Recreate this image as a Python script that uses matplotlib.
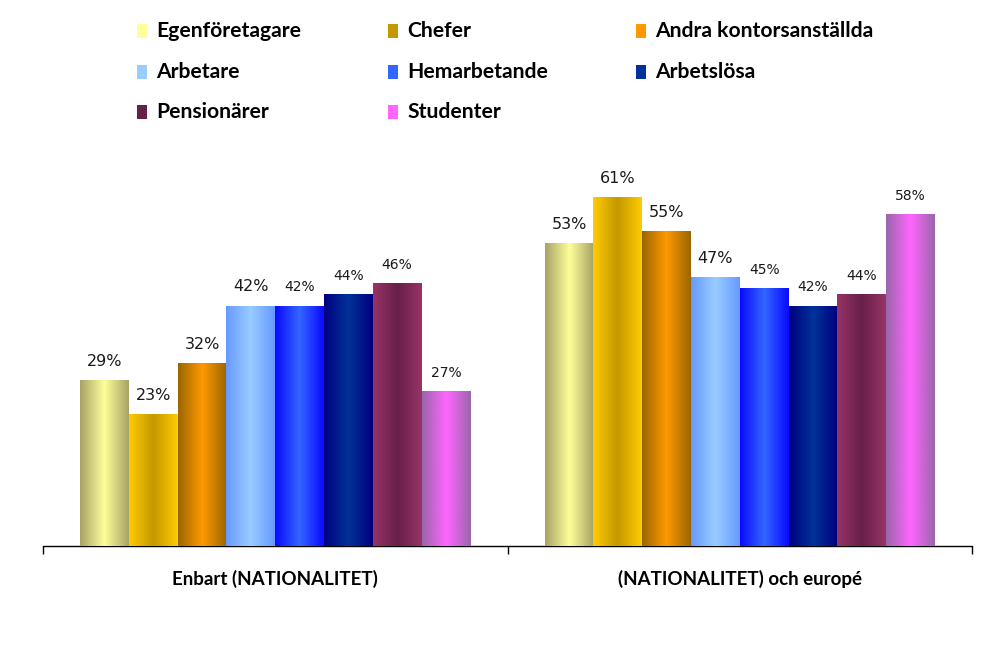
import numpy as np
import matplotlib.pyplot as plt
from matplotlib.colors import LinearSegmentedColormap
from matplotlib.patches import Rectangle

# data
grupper = ['Enbart (NATIONALITET)', '(NATIONALITET) och europé']
kategorier = ['Egenföretagare', 'Chefer', 'Andra kontorsanställda', 'Arbetare',
              'Hemarbetande', 'Arbetslösa', 'Pensionärer', 'Studenter']
enbart = [29, 23, 32, 42, 42, 44, 46, 27]
europe = [53, 61, 55, 47, 45, 42, 44, 58]

# gradient colours: edge / middle
kant = ['#a8a266', '#ffcc00', '#996600', '#6699ff', '#0a0aff', '#000080', '#993366', '#9966aa']
mitt = ['#ffff99', '#c49800', '#ff9900', '#99ccff', '#3366ff', '#003399', '#66204a', '#ff66ff']

# labels printed smaller in the original
sma = {(0, 4), (0, 5), (0, 6), (0, 7), (1, 4), (1, 5), (1, 6), (1, 7)}

fig = plt.figure(figsize=(10.08, 6.61), dpi=100)
ax = fig.add_axes([43/1008, 1 - 546/661, 929/1008, (546 - 145.3)/661])

w = 0.105
x = np.arange(len(grupper))
grad = np.linspace(0, 1, 256).reshape(1, -1)

for i, kat in enumerate(kategorier):
    vals = [enbart[i], europe[i]]
    pos = x + (i - 3.5) * w
    bars = ax.bar(pos, vals, width=w, color=mitt[i], edgecolor='none', zorder=2)
    cmap = LinearSegmentedColormap.from_list('g%d' % i, [kant[i], mitt[i], kant[i]])
    for g, b in enumerate(bars):
        im = ax.imshow(grad, extent=[b.get_x(), b.get_x() + b.get_width(), 0, b.get_height()],
                       aspect='auto', cmap=cmap, zorder=3)
        im.set_clip_path(b)
        fs = 10 if (g, i) in sma else 11.5
        ax.annotate('%d%%' % vals[g], (b.get_x() + w / 2, b.get_height()),
                    xytext=(0, 8), textcoords='offset points', ha='center', va='bottom',
                    fontsize=fs, color='#1a1a1a', family='DejaVu Sans')

ax.set_xlim(-0.5, 1.5)
ax.set_ylim(0, 70)
for s in ['left', 'right', 'top']:
    ax.spines[s].set_visible(False)
ax.spines['bottom'].set_linewidth(1.0)
ax.set_yticks([])
ax.set_xticks(x)
ax.set_xticklabels(grupper, fontsize=13.5, fontweight='bold', family='Lato')
ax.tick_params(axis='x', which='major', length=0, pad=17)
ax.set_xticks([-0.5, 0.5, 1.5], minor=True)
ax.tick_params(axis='x', which='minor', length=6, width=1)

# legend, row by row
kol_x = [137, 388, 636]
rad_y = [31, 72, 112]
for i, kat in enumerate(kategorier):
    r, c = divmod(i, 3)
    lx = kol_x[c] / 1008
    ly = 1 - rad_y[r] / 661
    fig.add_artist(Rectangle((lx, ly - 7/661), 10/1008, 14/661, transform=fig.transFigure,
                             facecolor=mitt[i], edgecolor='none'))
    fig.text(lx + 19/1008, ly, kat, fontsize=15.2, fontweight='bold', family='Lato',
             va='center', ha='left')

fig.savefig('out.png', dpi=100)
